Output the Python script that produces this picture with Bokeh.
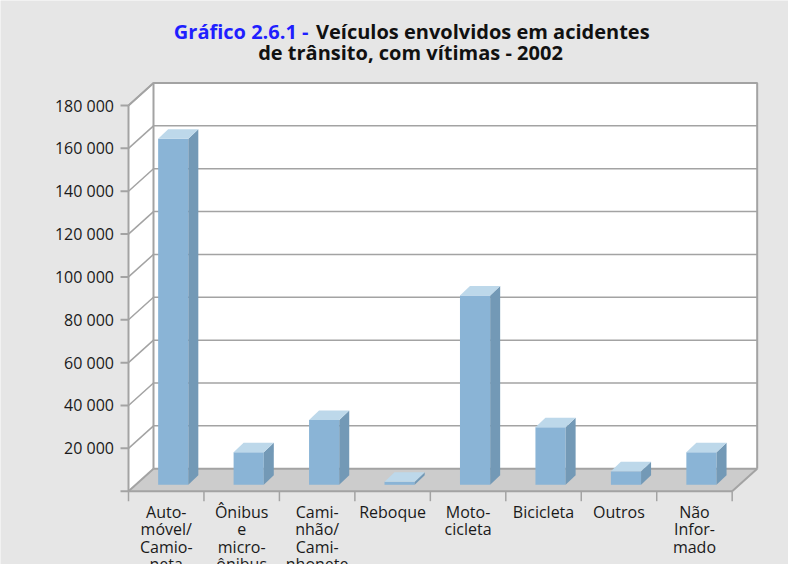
from bokeh.plotting import figure
from bokeh.models import Range1d
from bokeh.core.properties import value
from bokeh.embed import file_html
from bokeh.resources import INLINE

# --- data -------------------------------------------------------------
categories = [
    "Auto-\nmóvel/\nCamio-\nneta",
    "Ônibus\ne\nmicro-\nônibus",
    "Cami-\nnhão/\nCami-\nnhonete",
    "Reboque",
    "Moto-\ncicleta",
    "Bicicleta",
    "Outros",
    "Não\nInfor-\nmado",
]
vehicles = [161500, 15200, 30300, 1400, 88300, 26900, 6300, 15200]
y_ticks = [0, 20000, 40000, 60000, 80000, 100000, 120000, 140000, 160000, 180000]
y_max = 180000

# --- page geometry (pixels) --------------------------------------------
W, H = 788, 564
AXIS_PX = 128         # pixel column of the front y axis
PX_PER_CAT = 75.46    # width of one category on the front plane
ZERO_PX = 490.7       # pixel row of value 0 on the front plane
UNITS_PER_PX = 466.7  # value units per vertical pixel

n = len(categories)


def px_x(px):
    return (px - AXIS_PX) / PX_PER_CAT


def px_y(py):
    return (ZERO_PX - py) * UNITS_PER_PX


# 3-D offsets in data units
wall_dx, wall_dy = 25 / PX_PER_CAT, 22.5 * UNITS_PER_PX     # depth of the box
front_dx, front_dy = 7 / PX_PER_CAT, 6.4 * UNITS_PER_PX     # bar front plane
bar_dx, bar_dy = 10 / PX_PER_CAT, 9.5 * UNITS_PER_PX        # bar depth
bar_w = 0.4

BG = "#e6e6e6"
FLOOR = "#cccccc"
LINE = "#a3a3a3"
FRONT = "#8ab4d6"
SIDE = "#7399b6"
TOP = "#bdd8ea"
TEXT = "#1a1a1a"
FONT = value("Open Sans")

p = figure(width=W, height=H,
           x_range=Range1d(px_x(0), px_x(W)), y_range=Range1d(px_y(H), px_y(0)),
           x_axis_type=None, y_axis_type=None, output_backend="svg", toolbar_location=None,
           min_border=0)
p.background_fill_color = BG
p.border_fill_color = BG
p.outline_line_color = None
p.grid.visible = False

# --- back wall ----------------------------------------------------------
p.quad(left=[wall_dx], right=[n + wall_dx], bottom=[wall_dy], top=[y_max + wall_dy],
       fill_color="white", line_color=None)
grid_vals = [v for v in y_ticks if v > 0]
p.multi_line(xs=[[wall_dx, n + wall_dx] for _ in grid_vals],
             ys=[[v + wall_dy, v + wall_dy] for v in grid_vals],
             line_color=LINE, line_width=1.5)

# --- left wall ------------------------------------------------------------
p.patch(x=[0, 0, wall_dx, wall_dx], y=[0, y_max, y_max + wall_dy, wall_dy],
        fill_color="white", line_color=None)
p.multi_line(xs=[[0, wall_dx] for _ in grid_vals],
             ys=[[v, v + wall_dy] for v in grid_vals],
             line_color=LINE, line_width=1.5)

# --- floor ------------------------------------------------------------------
p.patch(x=[0, n, n + wall_dx, wall_dx], y=[0, 0, wall_dy, wall_dy],
        fill_color=FLOOR, line_color=None)

# box edges
edges_x = [
    [wall_dx, wall_dx, n + wall_dx, n + wall_dx],   # back wall outline
    [0, wall_dx],                                    # left wall top
    [0, wall_dx],                                    # left wall bottom
    [wall_dx, n + wall_dx],                          # floor back edge
    [0, n],                                          # floor front edge
    [n, n + wall_dx],                                # floor right edge
    [0, 0],                                          # front value axis
]
edges_y = [
    [wall_dy, y_max + wall_dy, y_max + wall_dy, wall_dy],
    [y_max, y_max + wall_dy],
    [0, wall_dy],
    [wall_dy, wall_dy],
    [0, 0],
    [0, wall_dy],
    [0, y_max],
]
p.multi_line(xs=edges_x, ys=edges_y, line_color=LINE, line_width=2)

# category separators below the floor
tick_len = 10 * UNITS_PER_PX
p.multi_line(xs=[[i, i] for i in range(n + 1)], ys=[[0, -tick_len] for _ in range(n + 1)],
             line_color=LINE, line_width=1.5)

# value-axis ticks and labels
tick_out = 8 / PX_PER_CAT
p.multi_line(xs=[[-tick_out, 0] for _ in y_ticks], ys=[[v, v] for v in y_ticks],
             line_color=LINE, line_width=2)
shown = [v for v in y_ticks if v > 0]
p.text(x=[px_x(113.5)] * len(shown), y=shown,
       text=[f"{v:,}".replace(",", " ") for v in shown],
       text_font=FONT, text_font_size="16px", text_color=TEXT,
       text_align="right", text_baseline="middle")

# --- bars -----------------------------------------------------------------
lefts = [i + (1 - bar_w) / 2 + front_dx for i in range(n)]
rights = [l + bar_w for l in lefts]
bottoms = [front_dy] * n
tops = [v + front_dy for v in vehicles]

p.quad(left=lefts, right=rights, bottom=bottoms, top=tops, fill_color=FRONT, line_color=None)
p.patches(xs=[[r, r + bar_dx, r + bar_dx, r] for r in rights],
          ys=[[b, b + bar_dy, t + bar_dy, t] for b, t in zip(bottoms, tops)],
          fill_color=SIDE, line_color=None)
p.patches(xs=[[l, r, r + bar_dx, l + bar_dx] for l, r in zip(lefts, rights)],
          ys=[[t, t, t + bar_dy, t + bar_dy] for t in tops],
          fill_color=TOP, line_color=None)

# --- category labels --------------------------------------------------------
line_step = 17.3 * UNITS_PER_PX
first_base = px_y(511.5)
lx, ly, lt = [], [], []
for i, label in enumerate(categories):
    for k, part in enumerate(label.split("\n")):
        lx.append(i + 0.5)
        ly.append(first_base - k * line_step)
        lt.append(part)
p.text(x=lx, y=ly, text=lt, text_font=FONT, text_font_size="16px", text_color=TEXT,
       text_align="center", text_baseline="alphabetic")

# --- title ------------------------------------------------------------------
p.text(x=[px_x(308)], y=[px_y(31)], text=["Gráfico 2.6.1 -"], text_font=FONT,
       text_font_size="20px", text_font_style="bold", text_color="#1f1fff",
       text_align="right", text_baseline="alphabetic")
p.text(x=[px_x(315.5)], y=[px_y(31)], text=["Veículos envolvidos em acidentes"], text_font=FONT,
       text_font_size="20px", text_font_style="bold", text_color="#111111",
       text_align="left", text_baseline="alphabetic")
p.text(x=[px_x(410)], y=[px_y(51.5)], text=["de trânsito, com vítimas - 2002"], text_font=FONT,
       text_font_size="20px", text_font_style="bold", text_color="#111111",
       text_align="center", text_baseline="alphabetic")

open("out.html", "w").write(file_html(p, INLINE))
